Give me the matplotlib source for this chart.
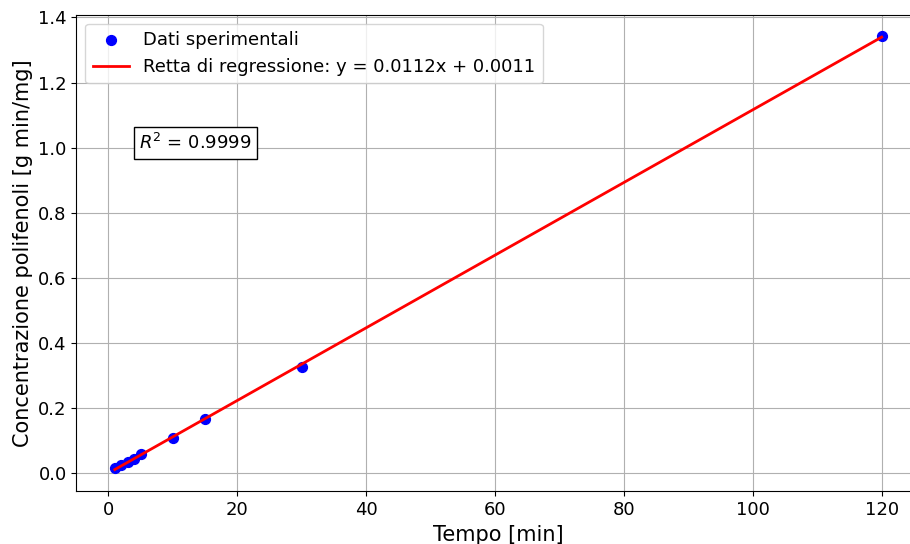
import matplotlib
matplotlib.use('Agg')
import matplotlib.pyplot as plt
import numpy as np

# experimental data
tempo = np.array([1, 2, 3, 4, 5, 10, 15, 30, 120])
conc = np.array([0.0145, 0.026, 0.035, 0.042, 0.058, 0.107, 0.166, 0.326, 1.342])

fit_label = 'Retta di regressione: y = 0.0112x + 0.0011'
r2_label = '$R^2$ = 0.9999'

slope, intercept = np.polyfit(tempo, conc, 1)

fig, ax = plt.subplots(figsize=(9.1, 5.44), dpi=100)
ax.scatter(tempo, conc, color='blue', s=50, label='Dati sperimentali', zorder=3)
ax.plot(tempo, slope * tempo + intercept, color='red', lw=2, label=fit_label, zorder=4)

ax.set_xlabel('Tempo [min]', fontsize=15)
ax.set_ylabel('Concentrazione polifenoli [g min/mg]', fontsize=15)
ax.tick_params(labelsize=13)
ax.grid(True)
ax.legend(loc='upper left', fontsize=13)
ax.text(0.0745, 0.718, r2_label, transform=ax.transAxes, fontsize=13,
        bbox=dict(facecolor='white', edgecolor='black'))

# the original was cropped on the right, so the axes run past the edge
fig.subplots_adjust(left=0.084, right=1.011, top=0.973, bottom=0.097)
fig.savefig('out.png', dpi=100)
